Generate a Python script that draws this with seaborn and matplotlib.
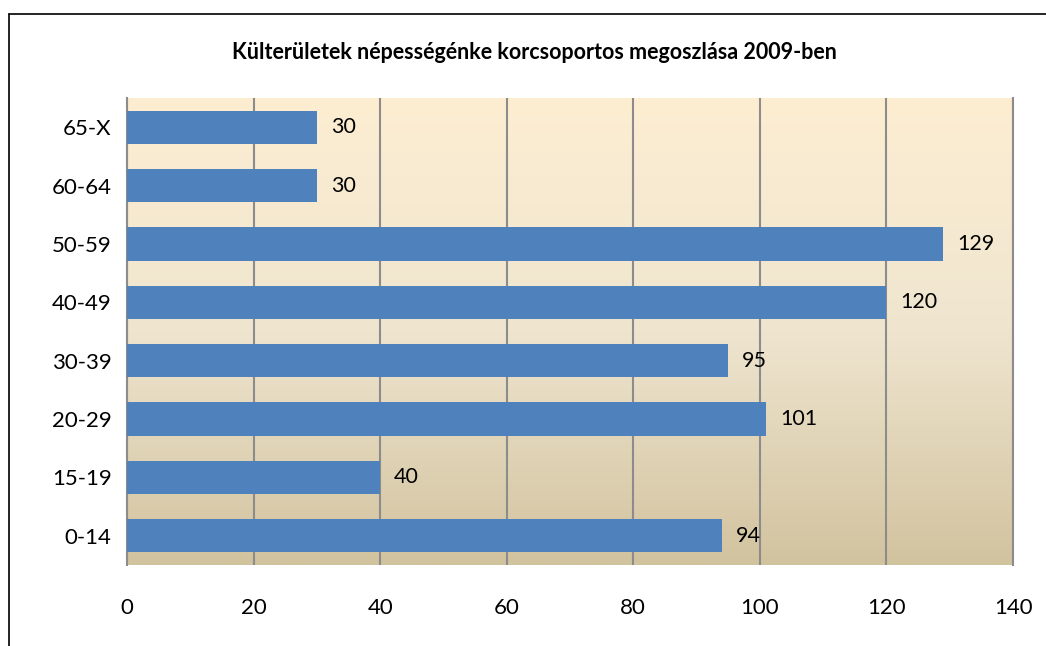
import numpy as np
import pandas as pd
import matplotlib
matplotlib.use("Agg")
import matplotlib.pyplot as plt
from matplotlib.colors import LinearSegmentedColormap
from matplotlib.lines import Line2D
import seaborn as sns

age_groups = ["65-X", "60-64", "50-59", "40-49", "30-39", "20-29", "15-19", "0-14"]
population = [30, 30, 129, 120, 95, 101, 40, 94]
x_ticks = [0, 20, 40, 60, 80, 100, 120, 140]
title = "Külterületek népességénke korcsoportos megoszlása 2009-ben"

sns.set_theme(style="white")
plt.rcParams["font.family"] = ["Lato", "DejaVu Sans"]
plt.rcParams["text.color"] = "black"
plt.rcParams["xtick.color"] = "black"
plt.rcParams["ytick.color"] = "black"

df = pd.DataFrame({"age": age_groups, "pop": population})

fig = plt.figure(figsize=(10.46, 6.46), dpi=100)
ax = fig.add_axes([0.1214, 0.1254, 0.8471, 0.7229])

# background gradient of the plot area
grad = np.linspace(0, 1, 256).reshape(-1, 1)
cmap = LinearSegmentedColormap.from_list("bg", ["#FDEED2", "#EFE5CF", "#D2C39F"])
ax.imshow(grad, cmap=cmap, aspect="auto", extent=[0, 1, 0, 1],
          transform=ax.transAxes, zorder=0, origin="upper")

sns.barplot(data=df, x="pop", y="age", orient="h", color="#4F81BD",
            saturation=1, width=0.57, linewidth=0, ax=ax, zorder=3)

for c in ax.containers:
    ax.bar_label(c, padding=10, fontsize=15.5, color="black")

ax.set_xlim(0, 140)
ax.set_ylim(7.5, -0.5)
ax.set_xticks(x_ticks)
ax.xaxis.grid(True, color="#8C8C8C", linewidth=1.5, zorder=1)
ax.set_axisbelow(True)
ax.set_xlabel("")
ax.set_ylabel("")
ax.tick_params(axis="x", labelsize=16, pad=24, length=0, labelcolor="black")
ax.tick_params(axis="y", labelsize=16, pad=11, length=0, labelcolor="black")
for s in ["top", "bottom"]:
    ax.spines[s].set_visible(False)
for s in ["left", "right"]:
    ax.spines[s].set_color("#8C8C8C")
    ax.spines[s].set_linewidth(1.5)

fig.text(0.511, 0.918, title, ha="center", va="center", fontsize=15.5,
         fontweight="bold", color="black")

# chart frame (top and left edges)
fig.add_artist(Line2D([0.0086, 1.0], [0.978, 0.978], color="black", lw=1.2))
fig.add_artist(Line2D([0.0086, 0.0086], [0.0, 0.978], color="black", lw=1.2))

fig.savefig("out.png", dpi=100)
